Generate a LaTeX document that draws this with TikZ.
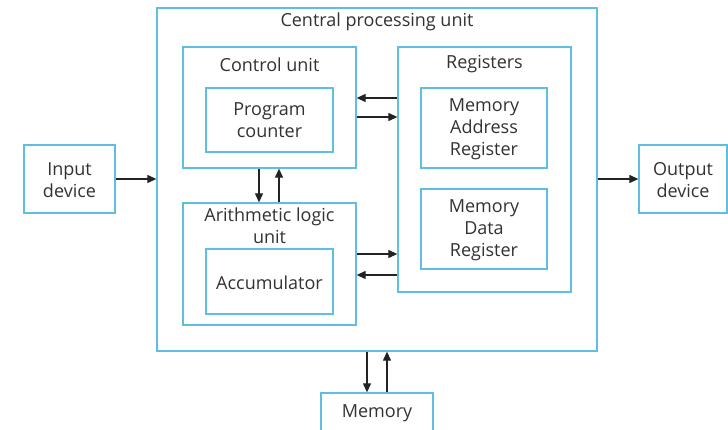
\documentclass[tikz,border=0pt]{standalone}
\usepackage{fontspec}
\setmainfont{Open Sans}
\usetikzlibrary{arrows.meta}
\definecolor{boxblue}{RGB}{95,190,225}
\definecolor{txt}{RGB}{50,50,50}
\definecolor{arr}{RGB}{35,35,35}
\begin{document}
\begin{tikzpicture}[x=1pt,y=-1pt,
  box/.style={draw=boxblue,line width=1.3pt,inner sep=0pt,fill=white},
  lbl/.style={text=txt,font=\fontsize{18}{22}\selectfont,align=center,inner sep=0pt},
  conn/.style={draw=arr,line width=1.1pt,-{Triangle[length=9pt,width=8pt]}}]
\useasboundingbox (0,0) rectangle (728,430);
\clip (0,0) rectangle (728,430);
% boxes
\node[box,minimum width=440pt,minimum height=343pt] (cpu) at (377,179.5) {};
\node[box,minimum width=173pt,minimum height=121pt] (cu) at (269.5,107.5) {};
\node[box,minimum width=173pt,minimum height=122pt] (alu) at (269.5,264) {};
\node[box,minimum width=173pt,minimum height=245pt] (reg) at (484.5,169.5) {};
\node[box,minimum width=127pt,minimum height=64pt] (pc) at (269.5,120) {};
\node[box,minimum width=127pt,minimum height=65pt] (acc) at (269.5,281.5) {};
\node[box,minimum width=126pt,minimum height=80pt] (mar) at (484,128) {};
\node[box,minimum width=126pt,minimum height=80pt] (mdr) at (484,229) {};
\node[box,minimum width=91pt,minimum height=68pt] (in) at (69.5,179) {};
\node[box,minimum width=88pt,minimum height=68pt] (out) at (683,179) {};
\node[box,minimum width=112pt,minimum height=60pt] (mem) at (377,423) {};
% texts
\node[lbl] (cput) at (377,21.5) {Central processing unit};
\node[lbl] (cut) at (269.5,64.5) {Control unit};
\node[lbl] (regt) at (484.5,64.5) {Registers};
\node[lbl] (alut) at (269.5,226) {Arithmetic logic\\unit};
\node[lbl] (pct) at (269.5,120.5) {Program\\counter};
\node[lbl] (acct) at (269.5,283) {Accumulator};
\node[lbl] (mart) at (484,129.5) {Memory\\Address\\Register};
\node[lbl] (mdrt) at (484,230) {Memory\\Data\\Register};
\node[lbl] (int) at (69.5,180) {Input\\device};
\node[lbl] (outt) at (683,180) {Output\\device};
\node[lbl] (memt) at (377,413.5) {Memory};
% connectors
\draw[conn] (in.east) -- (cpu.west |- in.east);
\draw[conn] (cpu.east |- out.west) -- (out.west);
\draw[conn] (reg.west |- 0,98) -- (cu.east |- 0,98);
\draw[conn] (cu.east |- 0,117) -- (reg.west |- 0,117);
\draw[conn] (alu.east |- 0,254) -- (reg.west |- 0,254);
\draw[conn] (reg.west |- 0,275) -- (alu.east |- 0,275);
\draw[conn] (cu.south -| 259,0) -- (alu.north -| 259,0);
\draw[conn] (alu.north -| 279,0) -- (cu.south -| 279,0);
\draw[conn] (cpu.south -| 367,0) -- (mem.north -| 367,0);
\draw[conn] (mem.north -| 387,0) -- (cpu.south -| 387,0);
\end{tikzpicture}
\end{document}
